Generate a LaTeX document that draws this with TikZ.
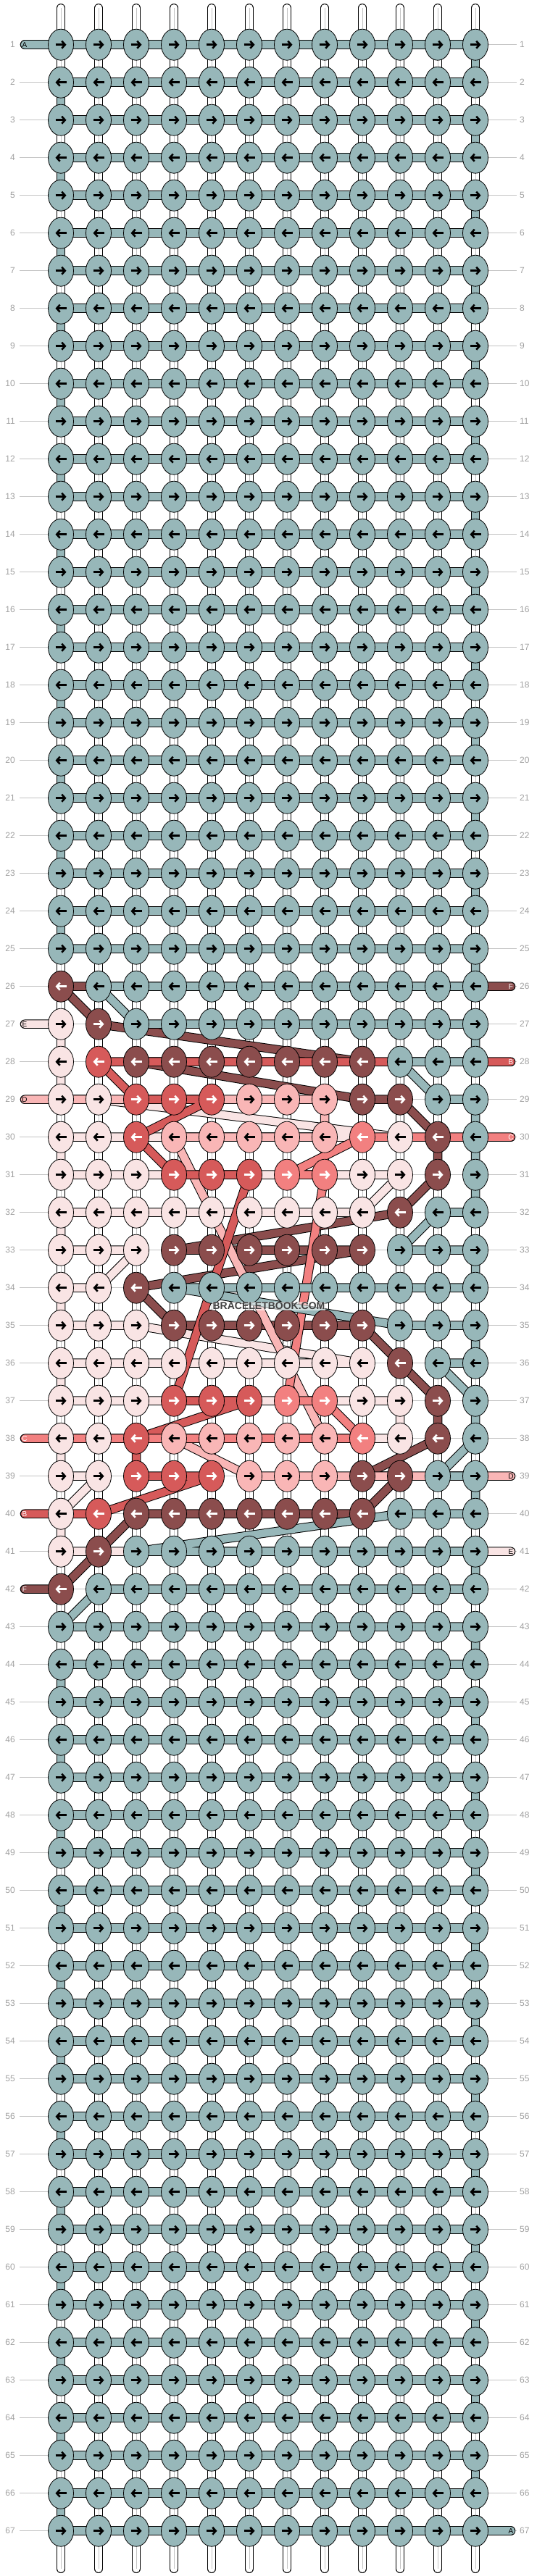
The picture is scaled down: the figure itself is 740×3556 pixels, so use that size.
\documentclass[tikz,border=0pt]{standalone}
\usepackage{fontspec}
\setmainfont{Liberation Sans}
\usetikzlibrary{shapes.geometric,arrows.meta}

% thread colours
\definecolor{thrA}{RGB}{151,183,185}
\definecolor{thrB}{RGB}{214,90,90}
\definecolor{thrC}{RGB}{242,128,128}
\definecolor{thrD}{RGB}{249,182,182}
\definecolor{thrE}{RGB}{249,228,228}
\definecolor{thrF}{RGB}{139,77,77}
% arrow colour on each knot colour
\colorlet{arrA}{black}
\colorlet{arrB}{white}
\colorlet{arrC}{white}
\colorlet{arrD}{black}
\colorlet{arrE}{black}
\colorlet{arrF}{white}
\definecolor{labelgray}{RGB}{160,160,160}
\definecolor{linegray}{RGB}{195,195,195}

\tikzset{
  warpstring/.style={draw=white, line width=10pt, line cap=round,
    preaction={draw=black, line width=12pt, line cap=round},
    postaction={draw=linegray, line width=0.8pt, line cap=butt}},
  bar/.style={draw=#1, line width=10.5pt, line cap=round, line join=round,
    preaction={draw=black, line width=12.5pt, line cap=round, line join=round}},
  knot/.style={ellipse, draw=black, line width=0.8pt, minimum width=35pt,
    minimum height=43pt, inner sep=0pt},
  pointer/.style={line width=2.6pt, -{Straight Barb[length=4.5pt,width=10pt]}},
  rowline/.style={draw=linegray, line width=0.8pt},
  rownum/.style={text=labelgray, font=\fontsize{12}{14}\selectfont, inner sep=0pt},
  endtag/.style={font=\fontsize{10}{12}\selectfont, inner sep=0pt},
  watermark/.style={font=\bfseries\fontsize{14}{16}\selectfont, text=black!75,
    fill=white, fill opacity=0.55, text opacity=1, inner sep=1pt}
}

\begin{document}
\begin{tikzpicture}[x=1pt,y=-1pt]
        \useasboundingbox (0,0) rectangle (740,3556);

        % Knot positions
        \foreach \r in {1,...,67} {
            \foreach \c in {1,...,12} {
                \coordinate (k-\r-\c) at ({84+52*(\c-1)},{61.7+52*(\r-1)});
            }
        }

        % Loose ends of the threads
        \coordinate (endA1) at ([xshift=-50pt]k-1-1);
        \coordinate (endA67) at ([xshift=49pt]k-67-12);
        \coordinate (endF26) at ([xshift=49pt]k-26-12);
        \coordinate (endF42) at ([xshift=-50pt]k-42-1);
        \coordinate (endE27) at ([xshift=-50pt]k-27-1);
        \coordinate (endE41) at ([xshift=49pt]k-41-12);
        \coordinate (endB28) at ([xshift=49pt]k-28-12);
        \coordinate (endB40) at ([xshift=-50pt]k-40-1);
        \coordinate (endD29) at ([xshift=-50pt]k-29-1);
        \coordinate (endD39) at ([xshift=49pt]k-39-12);
        \coordinate (endC30) at ([xshift=49pt]k-30-12);
        \coordinate (endC38) at ([xshift=-50pt]k-38-1);

        % Colour of every knot (A unless set below)
        \foreach \r in {1,...,67} {
            \foreach \c in {1,...,12} {
                \expandafter\xdef\csname kc-\r-\c\endcsname{A}
            }
        }
        \foreach \r/\a/\b/\L in {26/1/1/F, 27/1/1/E, 27/2/2/F,
            28/1/1/E, 28/2/2/B, 28/3/9/F,
            29/1/2/E, 29/3/5/B, 29/6/8/D, 29/9/10/F,
            30/1/2/E, 30/3/3/B, 30/4/8/D, 30/9/9/C, 30/10/10/E, 30/11/11/F,
            31/1/3/E, 31/4/6/B, 31/7/8/C, 31/9/10/E, 31/11/11/F,
            32/1/9/E, 32/10/10/F, 33/1/3/E, 33/4/9/F,
            34/1/2/E, 34/3/3/F, 35/1/3/E, 35/4/9/F,
            36/1/9/E, 36/10/10/F,
            37/1/3/E, 37/4/6/B, 37/7/8/C, 37/9/10/E, 37/11/11/F,
            38/1/2/E, 38/3/3/B, 38/4/8/D, 38/9/9/C, 38/10/10/E, 38/11/11/F,
            39/1/2/E, 39/3/5/B, 39/6/8/D, 39/9/10/F,
            40/1/1/E, 40/2/2/B, 40/3/9/F,
            41/1/1/E, 41/2/2/F, 42/1/1/F} {
            \foreach \c in {\a,...,\b} {
                \expandafter\xdef\csname kc-\r-\c\endcsname{\L}
            }
        }

        % Row guide lines
        \foreach \r in {1,...,67} {
            \draw[rowline] (27,{61.7+52*(\r-1)}) -- (713,{61.7+52*(\r-1)});
        }

        % Draw the white warp strings
        \foreach \c in {1,...,12} {
            \coordinate (top-\c) at ({84+52*(\c-1)},11);
            \coordinate (bot-\c) at ({84+52*(\c-1)},3546);
            \draw[warpstring] (top-\c) -- (bot-\c);
        }

        % Thread E
        \draw[bar=thrE] (endE27) -- (k-27-1) -- (k-28-1) -- (k-29-1) -- (k-29-2)
            -- (k-30-10) -- (k-30-1) -- (k-31-1) -- (k-31-10) -- (k-32-9) -- (k-32-1)
            -- (k-33-1) -- (k-33-3) -- (k-34-2) -- (k-34-1) -- (k-35-1) -- (k-35-3)
            -- (k-36-9) -- (k-36-1) -- (k-37-1) -- (k-37-10) -- (k-38-10) -- (k-38-1)
            -- (k-39-1) -- (k-39-2) -- (k-40-1) -- (k-41-1) -- (endE41);

        % Thread F
        \draw[bar=thrF] (endF26) -- (k-26-1) -- (k-27-2) -- (k-28-9) -- (k-28-3)
            -- (k-29-9) -- (k-29-10) -- (k-30-11) -- (k-31-11) -- (k-32-10)
            -- (k-33-4) -- (k-33-9) -- (k-34-3) -- (k-35-4) -- (k-35-9)
            -- (k-36-10) -- (k-37-11) -- (k-38-11) -- (k-39-9) -- (k-39-10)
            -- (k-40-9) -- (k-40-3) -- (k-41-2) -- (k-42-1) -- (endF42);

        % Thread D
        \draw[bar=thrD] (endD29) -- (k-29-6) -- (k-29-8) -- (k-30-8) -- (k-30-4)
            -- (k-38-8) -- (k-38-4) -- (k-39-6) -- (k-39-8) -- (endD39);

        % Thread B
        \draw[bar=thrB] (endB28) -- (k-28-2) -- (k-29-3) -- (k-29-5) -- (k-30-3)
            -- (k-31-4) -- (k-31-6) -- (k-37-4) -- (k-37-6) -- (k-38-3) -- (k-39-3)
            -- (k-39-5) -- (k-40-2) -- (endB40);

        % Thread C
        \draw[bar=thrC] (endC30) -- (k-30-9) -- (k-31-7) -- (k-31-8) -- (k-37-7)
            -- (k-37-8) -- (k-38-9) -- (endC38);

        % Thread A, the background
        \draw[bar=thrA] (endA1) -- (k-1-1);
        \foreach \r [evaluate=\r as \s using int(\r+1), evaluate=\r as \t using int(\r+2)] in {1,3,...,23} {
            \draw[bar=thrA] (k-\r-1) -- (k-\r-12) -- (k-\s-12) -- (k-\s-1) -- (k-\t-1);
        }
        \draw[bar=thrA] (k-25-1) -- (k-25-12) -- (k-26-12) -- (k-26-2) -- (k-27-3)
            -- (k-27-12) -- (k-28-12) -- (k-28-10) -- (k-29-11) -- (k-29-12)
            -- (k-30-12) -- (k-31-12) -- (k-32-12) -- (k-32-11) -- (k-33-10)
            -- (k-33-12) -- (k-34-12) -- (k-34-4) -- (k-35-10) -- (k-35-12)
            -- (k-36-12) -- (k-36-11) -- (k-37-12) -- (k-38-12) -- (k-39-11)
            -- (k-39-12) -- (k-40-12) -- (k-40-10) -- (k-41-3) -- (k-41-12)
            -- (k-42-12) -- (k-42-2) -- (k-43-1) -- (k-43-12) -- (k-44-12)
            -- (k-44-1) -- (k-45-1);
        \foreach \r [evaluate=\r as \s using int(\r+1), evaluate=\r as \t using int(\r+2)] in {45,47,...,65} {
            \draw[bar=thrA] (k-\r-1) -- (k-\r-12) -- (k-\s-12) -- (k-\s-1) -- (k-\t-1);
        }
        \draw[bar=thrA] (k-67-1) -- (k-67-12) -- (endA67);

        % Draw the knots with their arrows
        \foreach \r in {1,...,67} {
            \foreach \c in {1,...,12} {
                \edef\L{\csname kc-\r-\c\endcsname}
                \node[knot, fill=thr\L] (n-\r-\c) at (k-\r-\c) {};
                \ifodd\r
                    \draw[pointer, draw=arr\L] (n-\r-\c.center) +(-7.5,0) -- +(7.5,0);
                \else
                    \draw[pointer, draw=arr\L] (n-\r-\c.center) +(7.5,0) -- +(-7.5,0);
                \fi
            }
        }

        % Letters on the loose ends
        \foreach \e/\tag/\col in {endA1/A/black, endA67/A/black, endE27/E/black,
            endE41/E/black, endD29/D/black, endD39/D/black, endB28/B/white,
            endB40/B/white, endC30/C/white, endC38/C/white, endF26/F/white,
            endF42/F/white} {
            \node[endtag, text=\col] (tag-\e) at (\e) {\tag};
        }

        % Row numbers
        \foreach \r in {1,...,67} {
            \node[rownum, anchor=east] (left-\r) at (21,{61.7+52*(\r-1)}) {\r};
            \node[rownum, anchor=west] (right-\r) at (717,{61.7+52*(\r-1)}) {\r};
        }

        \node[watermark] (mark) at (371,1803) {BRACELETBOOK.COM};
\end{tikzpicture}
\end{document}
